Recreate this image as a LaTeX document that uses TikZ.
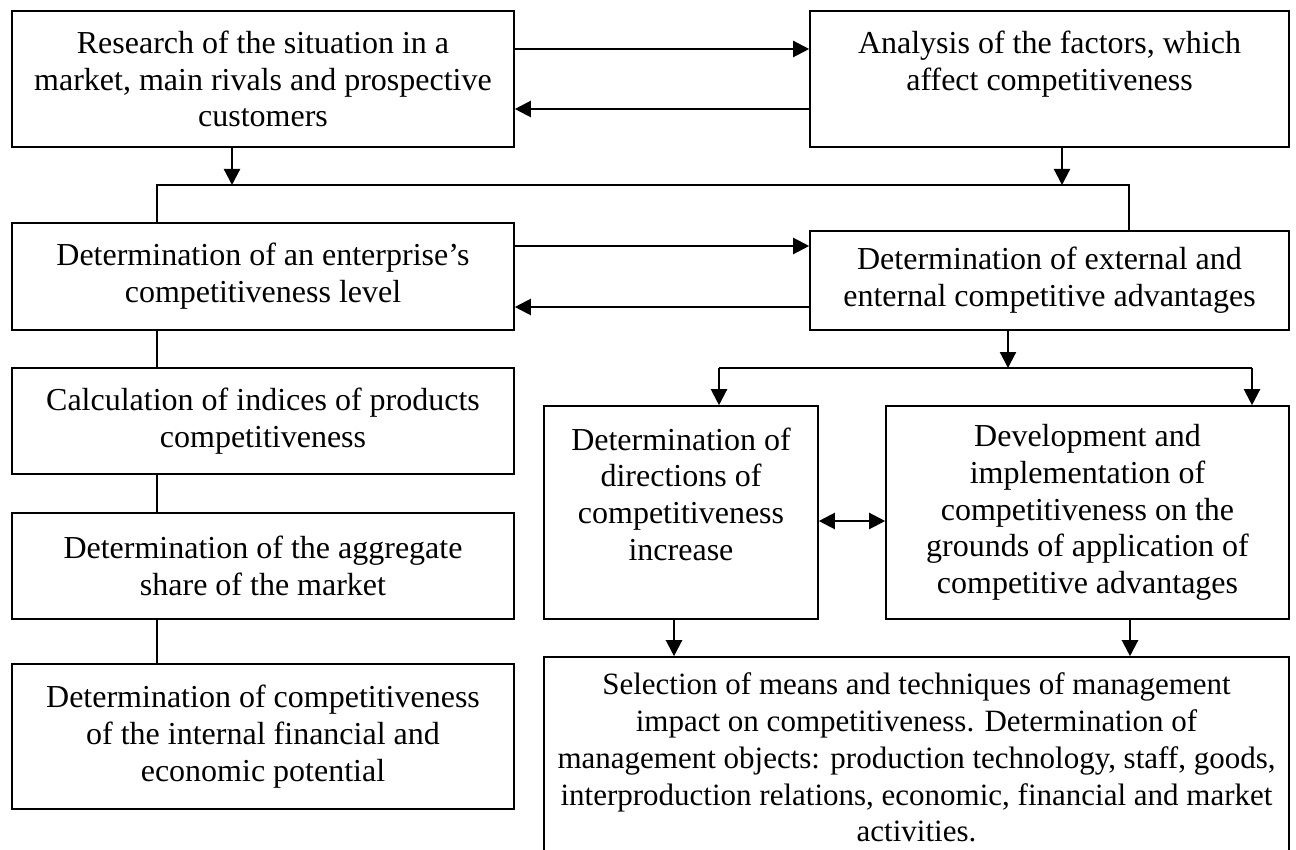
\documentclass[tikz,border=0pt]{standalone}
\usepackage{fontspec}
\setmainfont{Liberation Serif}
\usetikzlibrary{arrows.meta}
\begin{document}
\begin{tikzpicture}[x=0.5pt,y=-0.5pt,
  box/.style={draw, line width=0.8pt, align=center, inner sep=0pt,
    font=\fontsize{16pt}{18.4pt}\selectfont},
  arr/.style={line width=1.1pt, -{Triangle[length=8pt,width=8pt]}},
  biarr/.style={line width=1.1pt, {Triangle[length=8pt,width=8pt]}-{Triangle[length=8pt,width=8pt]}},
  link/.style={line width=0.65pt}]
\clip (0,0) rectangle (1296,850);
\fill[white] (0,0) rectangle (1296,850);

% left column
\node[box, minimum width=251pt, minimum height=68pt] (research) at (263,79)
  {Research of the situation in a\\market, main rivals and prospective\\customers};
\node[box, minimum width=251pt, minimum height=53.5pt] (level) at (263,276.5)
  {Determination of an enterprise’s\\competitiveness level};
\node[box, minimum width=251pt, minimum height=53pt] (indices) at (263,421)
  {Calculation of indices of products\\competitiveness};
\node[box, minimum width=251pt, minimum height=53pt] (share) at (263,566)
  {Determination of the aggregate\\share of the market};
\node[box, minimum width=251pt, minimum height=72.5pt] (potential) at (263,736.5)
  {Determination of competitiveness\\of the internal financial and\\economic potential};

% right column
\node[box, minimum width=239.5pt, minimum height=68pt] (factors) at (1049.5,79)
  {Analysis of the factors, which\\affect competitiveness\\~};
\node[box, minimum width=239.5pt, minimum height=49.5pt] (advantages) at (1049.5,280.5)
  {Determination of external and\\enternal competitive advantages};
\node[box, minimum width=137pt, minimum height=106.5pt] (directions) at (681,512.5)
  {Determination of\\directions of\\competitiveness\\increase\\~};
\node[box, minimum width=201.5pt, minimum height=106.5pt] (development) at (1087.5,512.5)
  {Development and\\implementation of\\competitiveness on the\\grounds of application of\\competitive advantages};
\node[box, minimum width=372.5pt, minimum height=100.5pt,
      font=\fontsize{15.5pt}{18.4pt}\selectfont] (selection) at (916.5,757.5)
  {Selection of means and techniques of management\\impact on competitiveness. Determination of\\management objects: production technology, staff, goods,\\interproduction relations, economic, financial and market\\activities.};

% two-way links between the upper boxes
\draw[arr] ([yshift=15pt]research.east) -- ([yshift=15pt]research.east -| factors.west);
\draw[arr] ([yshift=-15pt]factors.west) -- ([yshift=-15pt]factors.west -| research.east);
\draw[arr] ([yshift=15.25pt]level.east) -- ([yshift=15.25pt]level.east -| advantages.west);
\draw[arr] ([yshift=-15.25pt]level.east -| advantages.west) -- ([yshift=-15.25pt]level.east);

% bus joining the first row to the second
\coordinate (busL) at (157,185);
\coordinate (busR) at (1129,185);
\draw[link] (busL |- level.north) -- (busL) -- (busR) -- (busR |- advantages.north);
\draw[arr] ([xshift=-15.5pt]research.south) -- ([xshift=-15.5pt]research.south |- busL);
\draw[arr] ([xshift=6.25pt]factors.south) -- ([xshift=6.25pt]factors.south |- busR);

% left chain
\draw[link] (busL |- level.south) -- (busL |- indices.north);
\draw[link] (busL |- indices.south) -- (busL |- share.north);
\draw[link] (busL |- share.south) -- (busL |- potential.north);

% branch below the advantages box
\coordinate (brL) at (719,368);
\coordinate (brR) at (1252,368);
\draw[arr] ([xshift=-20.75pt]advantages.south) -- ([xshift=-20.75pt]advantages.south |- brL);
\draw[link, line width=1.1pt] (brL) -- (brR);
\draw[arr] (brL) -- (brL |- directions.north);
\draw[arr] (brR) -- (brR |- development.north);

\draw[biarr] ([yshift=-4.25pt]directions.east) -- ([yshift=-4.25pt]directions.east -| development.west);

\draw[arr] ([xshift=-3.5pt]directions.south) -- ([xshift=-3.5pt]directions.south |- selection.north);
\draw[arr] ([xshift=21.25pt]development.south) -- ([xshift=21.25pt]development.south |- selection.north);
\end{tikzpicture}
\end{document}
